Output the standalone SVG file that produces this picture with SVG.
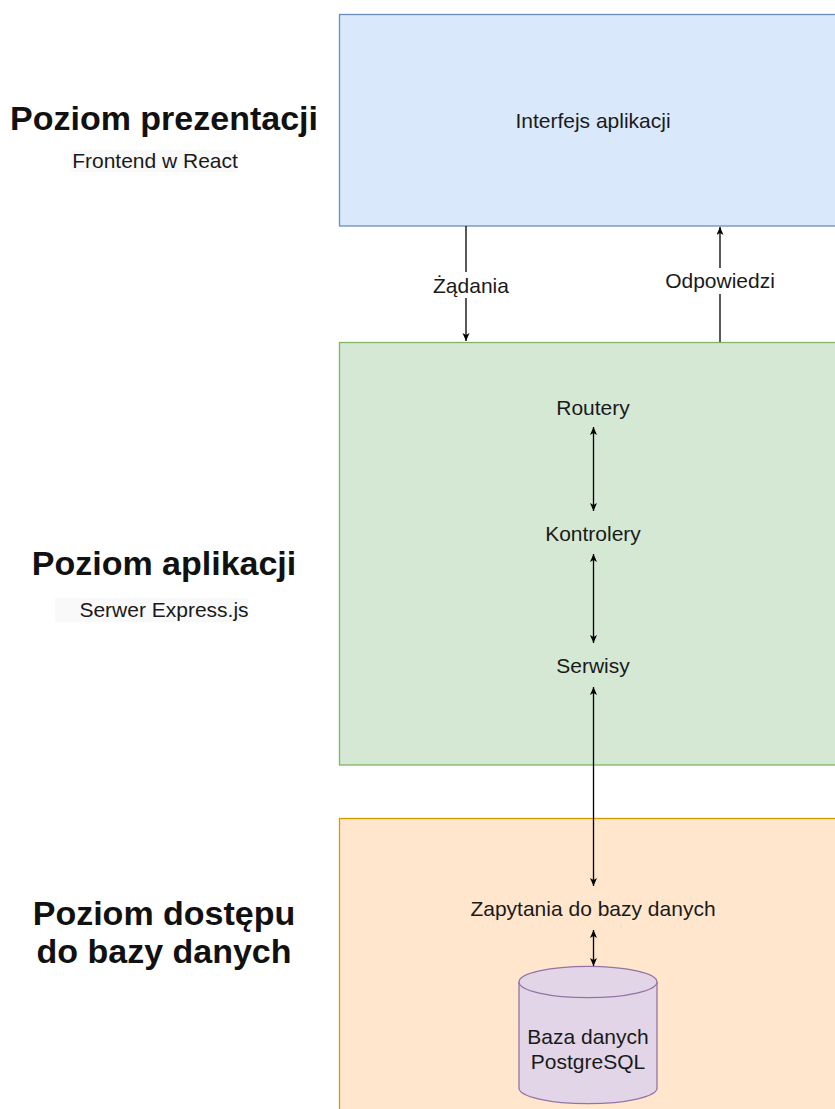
<svg xmlns="http://www.w3.org/2000/svg" width="835" height="1109" viewBox="0 0 835 1109">
<style>
  .t { font-family: "Liberation Sans", Arial, sans-serif; font-size: 21px; fill: #1a1a1a; text-anchor: middle; }
  .h { font-family: "Liberation Sans", Arial, sans-serif; font-size: 34px; font-weight: bold; fill: #111; text-anchor: middle; }
  .ln { stroke: #000; stroke-width: 1.3; fill: none; }
</style>
<defs>
  <marker id="arr" markerUnits="userSpaceOnUse" markerWidth="10" markerHeight="10" refX="8" refY="3.5" orient="auto-start-reverse">
    <path d="M0,0 L8,3.5 L0,7 L2,3.5 z" fill="#000"/>
  </marker>
</defs>
<rect width="835" height="1109" fill="#fff"/>

<g id="label-prezentacja">
  <text class="h" x="164" y="130">Poziom prezentacji</text>
  <rect x="71" y="150" width="167" height="22" fill="#f9f9f9"/>
  <text class="t" x="155" y="168">Frontend w React</text>
</g>
<g id="label-aplikacja">
  <text class="h" x="164" y="575">Poziom aplikacji</text>
  <rect x="55" y="598" width="193" height="24" fill="#f9f9f9"/>
  <text class="t" x="164" y="617">Serwer Express.js</text>
</g>
<g id="label-dostep">
  <text class="h" x="164" y="925">Poziom dostępu</text>
  <text class="h" x="164" y="963">do bazy danych</text>
</g>

<g id="interfejs">
  <rect x="339.5" y="14.5" width="510" height="211.5" fill="#dae8fc" stroke="#6c8ebf" stroke-width="1.3"/>
  <text class="t" x="593" y="128">Interfejs aplikacji</text>
</g>
<g id="serwer">
  <rect x="339.5" y="342.5" width="510" height="422.5" fill="#d5e8d4" stroke="#82b366" stroke-width="1.3"/>
  <text class="t" x="593" y="415">Routery</text>
  <text class="t" x="593" y="541">Kontrolery</text>
  <text class="t" x="593" y="673">Serwisy</text>
</g>
<g id="baza">
  <rect x="339.5" y="818.5" width="510" height="300" fill="#ffe6cc" stroke="#d79b00" stroke-width="1.3"/>
  <text class="t" x="593" y="916">Zapytania do bazy danych</text>
</g>
<g id="postgres">
  <path d="M519,982 a69,15.7 0 0 1 138,0 v106 a69,15.7 0 0 1 -138,0 z" fill="#e1d5e7" stroke="#9673a6" stroke-width="1.3"/>
  <path d="M519,982 a69,15.7 0 0 0 138,0" fill="none" stroke="#9673a6" stroke-width="1.3"/>
  <text class="t" x="588" y="1044">Baza danych</text>
  <text class="t" x="588" y="1069">PostgreSQL</text>
</g>

<g id="connectors">
  <line class="ln" x1="466" y1="226" x2="466" y2="341" marker-end="url(#arr)"/>
  <rect x="430" y="272" width="82" height="26" fill="#fff"/>
  <text class="t" x="471" y="293">Żądania</text>
  <line class="ln" x1="720" y1="342" x2="720" y2="227" marker-end="url(#arr)"/>
  <rect x="663" y="268" width="114" height="26" fill="#fff"/>
  <text class="t" x="720" y="288">Odpowiedzi</text>
  <line class="ln" x1="593.5" y1="427" x2="593.5" y2="511" marker-start="url(#arr)" marker-end="url(#arr)"/>
  <line class="ln" x1="593.5" y1="554" x2="593.5" y2="643" marker-start="url(#arr)" marker-end="url(#arr)"/>
  <line class="ln" x1="593.5" y1="687" x2="593.5" y2="886" marker-start="url(#arr)" marker-end="url(#arr)"/>
  <line class="ln" x1="593.5" y1="930" x2="593.5" y2="966" marker-start="url(#arr)" marker-end="url(#arr)"/>
</g>
</svg>
